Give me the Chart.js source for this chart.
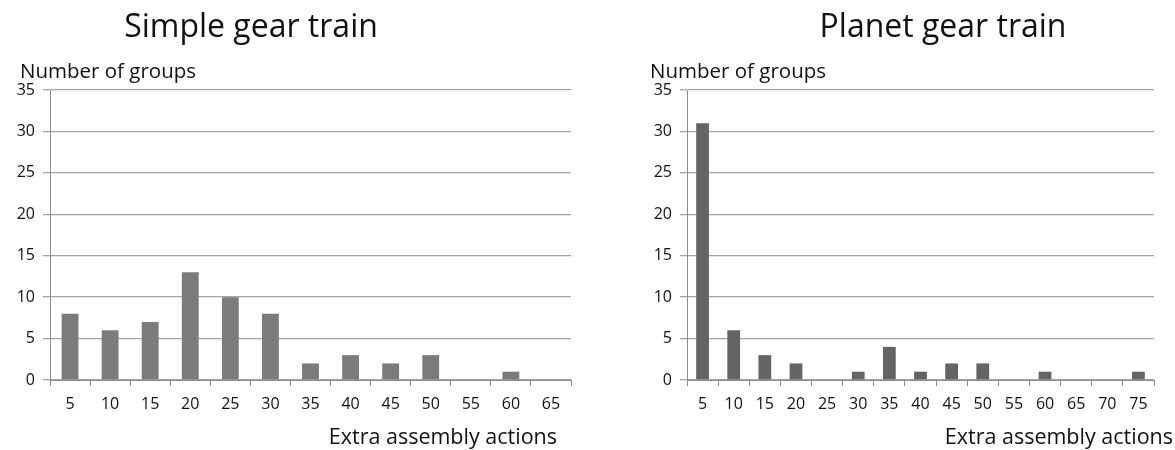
<!DOCTYPE html>
<html>
<head>
<meta charset="utf-8">
<script src="https://cdn.jsdelivr.net/npm/chart.js@4.4.0/dist/chart.umd.min.js"></script>
<style>
  body { margin: 0; background: #fff; }
  #wrap { position: relative; width: 1175px; height: 450px; }
  .box { position: absolute; top: 0; height: 450px; }
  #left { left: 0; width: 590px; }
  #right { left: 590px; width: 585px; }
</style>
</head>
<body>
<div id="wrap">
  <div class="box" id="left"><canvas id="simple"></canvas></div>
  <div class="box" id="right"><canvas id="planet"></canvas></div>
</div>
<script>
// data
var simpleLabels = ['5','10','15','20','25','30','35','40','45','50','55','60','65'];
var simpleGroups = [8, 6, 7, 13, 10, 8, 2, 3, 2, 3, 0, 1, 0];

var planetLabels = ['5','10','15','20','25','30','35','40','45','50','55','60','65','70','75'];
var planetGroups = [31, 6, 3, 2, 0, 1, 4, 1, 2, 2, 0, 1, 0, 0, 1];

var yTicks = [0, 5, 10, 15, 20, 25, 30, 35];

var fontName = '"Open Sans", sans-serif';

// draws the chart title and the two axis captions
var captions = {
  id: 'captions',
  afterDraw: function(chart, args, opts) {
    var ctx = chart.ctx;
    ctx.save();
    ctx.fillStyle = '#111';
    ctx.textBaseline = 'alphabetic';
    ctx.font = '32px ' + fontName;
    ctx.textAlign = 'center';
    ctx.fillText(opts.title, opts.titleX, 37);
    ctx.font = '20.5px ' + fontName;
    ctx.textAlign = 'left';
    ctx.fillText('Number of groups', opts.yCapX, 78);
    ctx.font = '21.5px ' + fontName;
    ctx.textAlign = 'right';
    ctx.fillText('Extra assembly actions', opts.xCapRight, 444);
    ctx.restore();
  }
};

function makeChart(id, labels, values, color, cfg) {
  var ctx = document.getElementById(id).getContext('2d');
  return new Chart(ctx, {
    type: 'bar',
    data: {
      labels: labels,
      datasets: [{
        data: values,
        backgroundColor: color,
        borderWidth: 0,
        categoryPercentage: 1,
        barPercentage: cfg.barPct
      }]
    },
    options: {
      responsive: true,
      maintainAspectRatio: false,
      animation: false,
      layout: { padding: { left: 0, top: 90, right: cfg.padRight, bottom: 0 } },
      plugins: {
        legend: { display: false },
        tooltip: { enabled: false },
        captions: cfg.captions
      },
      scales: {
        x: {
          offset: true,
          grid: { offset: true, drawOnChartArea: false, drawTicks: true, tickLength: 6, color: '#8c8c8c' },
          border: { color: '#8c8c8c', width: 1 },
          ticks: { color: '#111', font: { family: fontName, size: 16 }, padding: 9, maxRotation: 0, autoSkip: false },
          afterFit: function(s) { s.height = 70; }
        },
        y: {
          min: 0, max: 35,
          afterBuildTicks: function(s) { s.ticks = yTicks.map(function(v) { return { value: v }; }); },
          grid: { color: '#a3a3a3', tickLength: 7, lineWidth: 1.3 },
          border: { color: '#8c8c8c', width: 1 },
          ticks: { color: '#111', font: { family: fontName, size: 16 }, padding: 8 },
          afterFit: function(s) { s.width = cfg.axisX; }
        }
      }
    },
    plugins: [captions]
  });
}

makeChart('simple', simpleLabels, simpleGroups, '#7b7b7b', {
  barPct: 0.42, padRight: 19, axisX: 50,
  captions: { title: 'Simple gear train', titleX: 251, yCapX: 20, xCapRight: 557 }
});

makeChart('planet', planetLabels, planetGroups, '#646464', {
  barPct: 0.41, padRight: 21, axisX: 97,
  captions: { title: 'Planet gear train', titleX: 353, yCapX: 60, xCapRight: 583 }
});
</script>
</body>
</html>
